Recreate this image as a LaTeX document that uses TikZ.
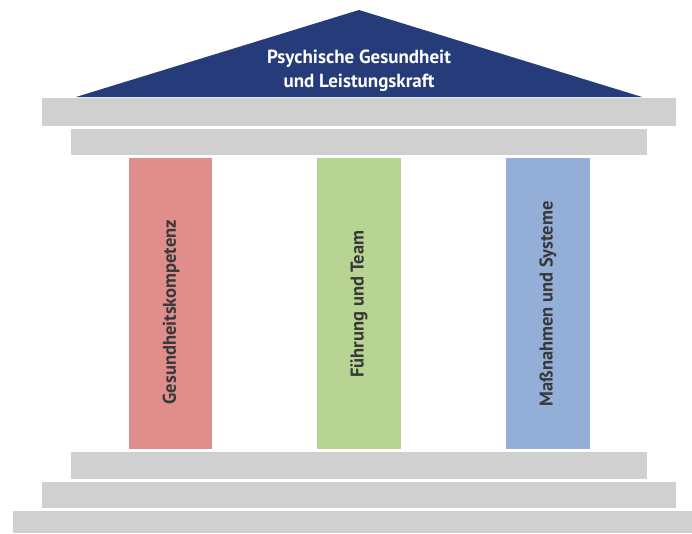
\documentclass[tikz,border=0pt]{standalone}
\usepackage{fontspec}
\setmainfont{PT Sans}
\definecolor{roofblue}{HTML}{253B7A}
\definecolor{slabgray}{HTML}{D0D0D0}
\definecolor{colred}{HTML}{DF8E8C}
\definecolor{colgreen}{HTML}{B8D492}
\definecolor{colblue}{HTML}{93AFD8}
\definecolor{txtgray}{HTML}{383838}
\tikzset{
  slab/.style={fill=slabgray, draw=none},
  pillar/.style={draw=none},
  pillartext/.style={rotate=90, text=txtgray, font=\fontsize{18.5}{22}\selectfont\bfseries},
  rooftext/.style={text=white, anchor=base, font=\fontsize{19}{24}\selectfont\bfseries}
}
\begin{document}
\begin{tikzpicture}[x=1pt,y=-1pt]
\useasboundingbox[fill=white] (0,0) rectangle (692,533);
% roof
\fill[roofblue] (76,97) -- (359,10) -- (642,97) -- cycle;
\node[rooftext] (title1) at (359,63) {Psychische Gesundheit};
\node[rooftext] (title2) at (359,87) {und Leistungskraft};
% upper slabs
\fill[slab] (42,98) rectangle (676,126);
\fill[slab] (71,129) rectangle (647,155);
% pillars
\fill[pillar, colred] (129,158) rectangle (212,449);
\fill[pillar, colgreen] (317,158) rectangle (401,449);
\fill[pillar, colblue] (506,158) rectangle (590,449);
\node[pillartext] (p1) at (171,312) {Gesundheitskompetenz};
\node[pillartext] (p2) at (359,304) {Führung und Team};
\node[pillartext] (p3) at (548,304) {Maßnahmen und Systeme};
% lower slabs
\fill[slab] (71,452) rectangle (647,479);
\fill[slab] (42,482) rectangle (676,508);
\fill[slab] (13,511) rectangle (692,533);
\end{tikzpicture}
\end{document}
